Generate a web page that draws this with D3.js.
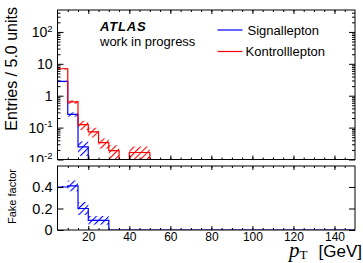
<!DOCTYPE html>
<html>
<head>
<meta charset="utf-8">
<script src="https://cdn.jsdelivr.net/npm/d3@7"></script>
<style>
  body { margin: 0; background: #fff; }
  text { font-family: "Liberation Sans", Arial, sans-serif; }
</style>
</head>
<body>
<svg width="363" height="263"></svg>
<script>
// bin lower edges in GeV (5 GeV bins, 5..150)
const binLow = [5, 10, 15, 20, 25, 30, 35, 40, 45, 50, 55, 60, 65, 70, 75,
                80, 85, 90, 95, 100, 105, 110, 115, 120, 125, 130, 135, 140, 145];
const binWidth = 5;

// entries per bin
const sigVals  = [2.8, 0.26, 0.025, 0, 0, 0, 0, 0, 0, 0, 0, 0, 0, 0, 0,
                  0, 0, 0, 0, 0, 0, 0, 0, 0, 0, 0, 0, 0, 0];
const sigErr   = [0.15, 0.04, 0.012, 0, 0, 0, 0, 0, 0, 0, 0, 0, 0, 0, 0,
                  0, 0, 0, 0, 0, 0, 0, 0, 0, 0, 0, 0, 0, 0];
const ctrlVals = [7.0, 0.64, 0.124, 0.074, 0.034, 0.019, 0, 0.0166, 0.0166, 0, 0, 0, 0, 0, 0,
                  0, 0, 0, 0, 0, 0, 0, 0, 0, 0, 0, 0, 0, 0];
const ctrlErr  = [0.4, 0.08, 0.04, 0.025, 0.012, 0.009, 0, 0.009, 0.009, 0, 0, 0, 0, 0, 0,
                  0, 0, 0, 0, 0, 0, 0, 0, 0, 0, 0, 0, 0, 0];

// fake factor (ratio panel)
const ffVals = [0.40, 0.41, 0.20, 0.09, 0.09, 0, 0, 0, 0, 0, 0, 0, 0, 0, 0,
                0, 0, 0, 0, 0, 0, 0, 0, 0, 0, 0, 0, 0, 0];
const ffErr  = [0.01, 0.05, 0.06, 0.04, 0.04, 0, 0, 0, 0, 0, 0, 0, 0, 0, 0,
                0, 0, 0, 0, 0, 0, 0, 0, 0, 0, 0, 0, 0, 0];

const xMajor = [20, 40, 60, 80, 100, 120, 140];
const xMinor = d3.range(10, 150, 5);
const yTopMajor = [0.01, 0.1, 1, 10, 100];
const yBotMajor = [0, 0.2, 0.4];

const svg = d3.select("svg");
const blue = "#0000ff", red = "#ff0000";

// panel geometry
const left = 57.5, right = 355;
const top1 = 10, bot1 = 159.5;
const top2 = 166, bot2 = 230;

const x = d3.scaleLinear().domain([5, 150]).range([left, right]);
const yTop = d3.scaleLog().domain([0.01, 487]).range([bot1, top1]);
const yBot = d3.scaleLinear().domain([0, 0.595]).range([bot2, top2]);

// hatch patterns ("/" lines)
const defs = svg.append("defs");
function hatch(id, col) {
  const p = defs.append("pattern").attr("id", id)
    .attr("patternUnits", "userSpaceOnUse")
    .attr("width", 4.5).attr("height", 4.5)
    .attr("patternTransform", "rotate(-45)");
  p.append("rect").attr("x", 0).attr("y", 0).attr("width", 4.5).attr("height", 1.1)
    .style("fill", col);
}
hatch("hb", blue);
hatch("hr", red);
defs.append("clipPath").attr("id", "c1").append("rect")
  .attr("x", left).attr("y", top1).attr("width", right - left).attr("height", bot1 - top1);
defs.append("clipPath").attr("id", "c2").append("rect")
  .attr("x", left).attr("y", top2).attr("width", right - left).attr("height", bot2 - top2);

// step path
function steps(vals, y, lo) {
  const pts = binLow.map((b, i) => [b, Math.max(vals[i], lo)]);
  pts.push([150, Math.max(vals[vals.length - 1], lo)]);
  return d3.line().x(d => x(d[0])).y(d => y(d[1])).curve(d3.curveStepAfter)(pts);
}

function bands(g, vals, errs, y, lo, fill) {
  g.selectAll(null)
    .data(binLow.map((b, i) => ({ b, v: vals[i], e: errs[i] })).filter(d => d.v > 0))
    .join("rect")
    .attr("x", d => x(d.b))
    .attr("width", d => x(d.b + binWidth) - x(d.b))
    .attr("y", d => y(d.v + d.e))
    .attr("height", d => y(Math.max(d.v - d.e, lo)) - y(d.v + d.e))
    .style("fill", fill);
}

// ---------- top panel ----------
const g1 = svg.append("g").attr("clip-path", "url(#c1)");
bands(g1, ctrlVals, ctrlErr, yTop, 0.005, "url(#hr)");
bands(g1, sigVals, sigErr, yTop, 0.005, "url(#hb)");
g1.append("path").attr("d", steps(sigVals, yTop, 0.01))
  .style("fill", "none").style("stroke", blue).attr("stroke-width", 1.2);
g1.append("path").attr("d", steps(ctrlVals, yTop, 0.01))
  .style("fill", "none").style("stroke", red).attr("stroke-width", 1.2);

function xTicks(yPos, dir, showLabels) {
  const mk = dir === "up" ? d3.axisBottom : d3.axisTop;
  const a = svg.append("g").attr("transform", `translate(0,${yPos})`)
    .call(mk(x).tickValues(xMinor).tickSizeInner(-2).tickSizeOuter(0).tickFormat(""));
  a.select(".domain").remove();
  const b = svg.append("g").attr("transform", `translate(0,${yPos})`)
    .call(mk(x).tickValues(xMajor).tickSizeInner(-4).tickSizeOuter(0)
      .tickPadding(2).tickFormat(showLabels ? d3.format("d") : ""));
  b.select(".domain").remove();
  b.selectAll("text").attr("font-size", 12).attr("fill", "#000");
}

function logTicks(side) {
  const minor = [];
  [0.01, 0.1, 1, 10, 100].forEach(d => {
    for (let k = 2; k <= 9; k++) if (d * k < 487) minor.push(d * k);
  });
  const xPos = side === "left" ? left : right;
  const mk = side === "left" ? d3.axisLeft : d3.axisRight;
  const a = svg.append("g").attr("transform", `translate(${xPos},0)`)
    .call(mk(yTop).tickValues(minor).tickSizeInner(-3).tickSizeOuter(0).tickFormat(""));
  a.select(".domain").remove();
  const b = svg.append("g").attr("transform", `translate(${xPos},0)`)
    .call(mk(yTop).tickValues(yTopMajor).tickSizeInner(-6).tickSizeOuter(0)
      .tickPadding(5).tickFormat(""));
  b.select(".domain").remove();
  if (side === "left") {
    b.selectAll(".tick text").each(function (d) {
      const t = d3.select(this).attr("font-size", 14).attr("fill", "#000").attr("dy", "0.36em");
      const e = Math.round(Math.log10(d));
      if (e === 0) t.text("1");
      else if (e === 1) t.text("10");
      else {
        t.append("tspan").text("10");
        t.append("tspan").attr("font-size", 9.5).attr("dy", "-0.6em").text(e);
      }
    });
  }
}

xTicks(bot1, "up", false);
xTicks(top1, "down", false);
logTicks("left");
logTicks("right");

svg.append("rect").attr("x", left).attr("y", top1)
  .attr("width", right - left).attr("height", bot1 - top1)
  .style("fill", "none").style("stroke", "#000").attr("stroke-width", 1);

// labels inside top panel
svg.append("text").attr("x", 100).attr("y", 31)
  .attr("font-size", 13).attr("font-weight", "bold").attr("font-style", "italic")
  .attr("letter-spacing", 0.8).text("ATLAS");
svg.append("text").attr("x", 100).attr("y", 46)
  .attr("font-size", 13).text("work in progress");

const legend = [
  { name: "Signallepton", col: blue, y: 30, tx: 247.5 },
  { name: "Kontrolllepton", col: red, y: 51.5, tx: 245.5 }
];
legend.forEach(l => {
  svg.append("line").attr("x1", 217.5).attr("x2", 242.5).attr("y1", l.y).attr("y2", l.y)
    .style("stroke", l.col).attr("stroke-width", 1.2);
  svg.append("text").attr("x", l.tx).attr("y", l.y + 4.5)
    .attr("font-size", 13).text(l.name);
});

svg.append("text").attr("transform", `translate(17,7) rotate(-90)`)
  .attr("text-anchor", "end").attr("font-size", 16).text("Entries / 5.0 units");

// ---------- ratio panel ----------
svg.append("rect").attr("x", 0).attr("y", 162).attr("width", 363).attr("height", 101).style("fill", "#fff");

const g2 = svg.append("g").attr("clip-path", "url(#c2)");
bands(g2, ffVals, ffErr, yBot, 0, "url(#hb)");
g2.append("path").attr("d", steps(ffVals, yBot, 0))
  .style("fill", "none").style("stroke", blue).attr("stroke-width", 1.2);

xTicks(bot2, "up", true);
xTicks(top2, "down", false);

["left", "right"].forEach(side => {
  const xPos = side === "left" ? left : right;
  const mk = side === "left" ? d3.axisLeft : d3.axisRight;
  const a = svg.append("g").attr("transform", `translate(${xPos},0)`)
    .call(mk(yBot).tickValues(yBotMajor).tickSizeInner(-6).tickSizeOuter(0)
      .tickPadding(5).tickFormat(side === "left" ? d3.format("") : ""));
  a.select(".domain").remove();
  a.selectAll("text").attr("font-size", 14.5).attr("fill", "#000");
});

svg.append("rect").attr("x", left).attr("y", top2)
  .attr("width", right - left).attr("height", bot2 - top2)
  .style("fill", "none").style("stroke", "#000").attr("stroke-width", 1);

svg.append("text").attr("transform", `translate(16,224) rotate(-90)`)
  .attr("font-size", 11).text("Fake factor");

// x title
const xt = svg.append("text").attr("x", 362).attr("y", 257).attr("text-anchor", "end");
xt.append("tspan").attr("font-family", "Liberation Serif, serif").attr("font-style", "italic")
  .attr("font-size", 21).text("p");
xt.append("tspan").attr("font-family", "Liberation Serif, serif")
  .attr("font-size", 13).attr("dy", 2).text("T");
xt.append("tspan").attr("font-size", 17).attr("dy", -2).attr("dx", 11).text("[GeV]");
</script>
</body>
</html>
